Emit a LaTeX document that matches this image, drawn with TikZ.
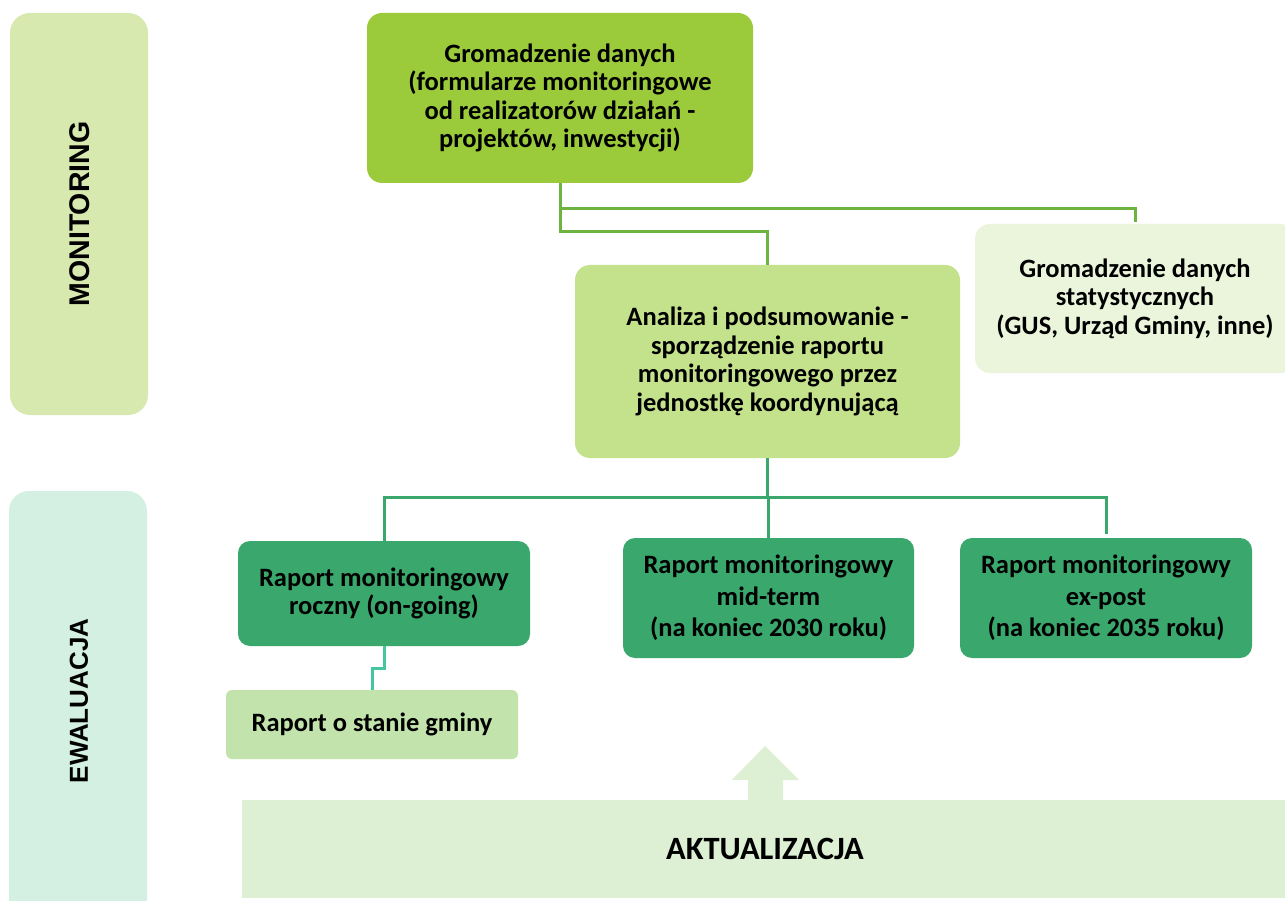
\documentclass[tikz,border=0pt]{standalone}
\usepackage{fontspec}
\setmainfont{Carlito}
\newfontfamily\arialfont{Liberation Sans}
\usetikzlibrary{calc}
\definecolor{monbg}{HTML}{D7E9AF}
\definecolor{ewabg}{HTML}{D4F0E2}
\definecolor{topbg}{HTML}{9BCB3B}
\definecolor{anabg}{HTML}{C4E18B}
\definecolor{statbg}{HTML}{EBF5DB}
\definecolor{darkbg}{HTML}{3AA76D}
\definecolor{gminabg}{HTML}{C2E3AB}
\definecolor{aktbg}{HTML}{DEF0D4}
\definecolor{lineA}{HTML}{6DB33F}
\definecolor{lineB}{HTML}{3AA76D}
\definecolor{lineC}{HTML}{45C5A0}
\tikzset{
  x={(1pt,0)}, y={(0,-1pt)},
  boxtext/.style={align=center, font=\fontsize{26.5}{28.5}\selectfont\bfseries, text=black, inner sep=0pt},
  sidebox/.style={rounded corners=20pt, inner sep=0pt},
  sidetext/.style={rotate=90},
  conA/.style={draw=lineA, line width=3pt},
  conB/.style={draw=lineB, line width=3pt},
  conC/.style={draw=lineC, line width=3pt},
}
\begin{document}
\begin{tikzpicture}
\clip (0,0) rectangle (1285,901);
\fill[white] (0,0) rectangle (1285,901);
% side bands
\node[sidebox, fill=monbg, minimum width=138pt, minimum height=402pt] (mon) at (79,214) {};
\node[sidetext, font=\arialfont\fontsize{28.5}{32}\selectfont\bfseries] (montxt) at (80,214) {MONITORING};
\node[sidebox, fill=ewabg, minimum width=138pt, minimum height=440pt] (ewa) at (78,711) {};
\node[sidetext, font=\arialfont\fontsize{26}{30}\selectfont\bfseries] (ewatxt) at (79,701) {EWALUACJA};
% boxes
\node[boxtext, fill=topbg, rounded corners=15pt, minimum width=386pt, minimum height=170pt] (top) at (560,98)
  {Gromadzenie danych\\(formularze monitoringowe\\od realizatorów działań -\\projektów, inwestycji)};
\node[boxtext, fill=anabg, rounded corners=15pt, minimum width=385pt, minimum height=193pt] (ana) at (767.5,361.5)
  {Analiza i podsumowanie -\\sporządzenie raportu\\monitoringowego przez\\jednostkę koordynującą};
\node[boxtext, fill=statbg, rounded corners=15pt, minimum width=320pt, minimum height=149pt] (stat) at (1135,298.5)
  {Gromadzenie danych\\statystycznych\\(GUS, Urząd Gminy, inne)};
\node[boxtext, fill=darkbg, rounded corners=12pt, minimum width=292pt, minimum height=105pt] (rl) at (384,593.5)
  {Raport monitoringowy\\roczny (on-going)};
\node[boxtext, fill=darkbg, rounded corners=12pt, minimum width=291pt, minimum height=120pt, font=\fontsize{26.5}{31.5}\selectfont\bfseries] (rm) at (768.5,598)
  {Raport monitoringowy\\mid-term\\(na koniec 2030 roku)};
\node[boxtext, fill=darkbg, rounded corners=12pt, minimum width=292pt, minimum height=120pt, font=\fontsize{26.5}{31.5}\selectfont\bfseries] (rr) at (1106,598)
  {Raport monitoringowy\\ex-post\\(na koniec 2035 roku)};
\node[boxtext, fill=gminabg, rounded corners=6pt, minimum width=292pt, minimum height=69pt] (gm) at (372,724.5)
  {Raport o stanie gminy};
\node[boxtext, fill=aktbg, minimum width=1046pt, minimum height=98pt, font=\fontsize{32.5}{36}\selectfont\bfseries] (akt) at (765,849)
  {AKTUALIZACJA};
% block arrow
\fill[aktbg] ($(akt.north)+(-17,1)$) -- ++(0,-21) -- ++(-16,0) -- (765,746) -- (799,780) -- ++(-16,0) -- ($(akt.north)+(18,1)$) -- cycle;
% connectors
\draw[conA] (top.south) -- ($(top.south)+(0,48)$) -| (ana.north);
\draw[conA] ($(top.south)+(0,25)$) -| ($(stat.north)+(0,-2)$);
\draw[conB] (ana.south) -- ($(ana.south)+(0,39)$) -| (rl.north);
\draw[conB] (ana.south) -- ($(ana.south)+(0,39)$) -| (rm.north);
\draw[conB] ($(ana.south)+(0,39)$) -| ($(rr.north)+(0,-4)$);
\draw[conC] (rl.south) -- ($(rl.south)+(0,22)$) -| (gm.north);
\end{tikzpicture}
\end{document}
